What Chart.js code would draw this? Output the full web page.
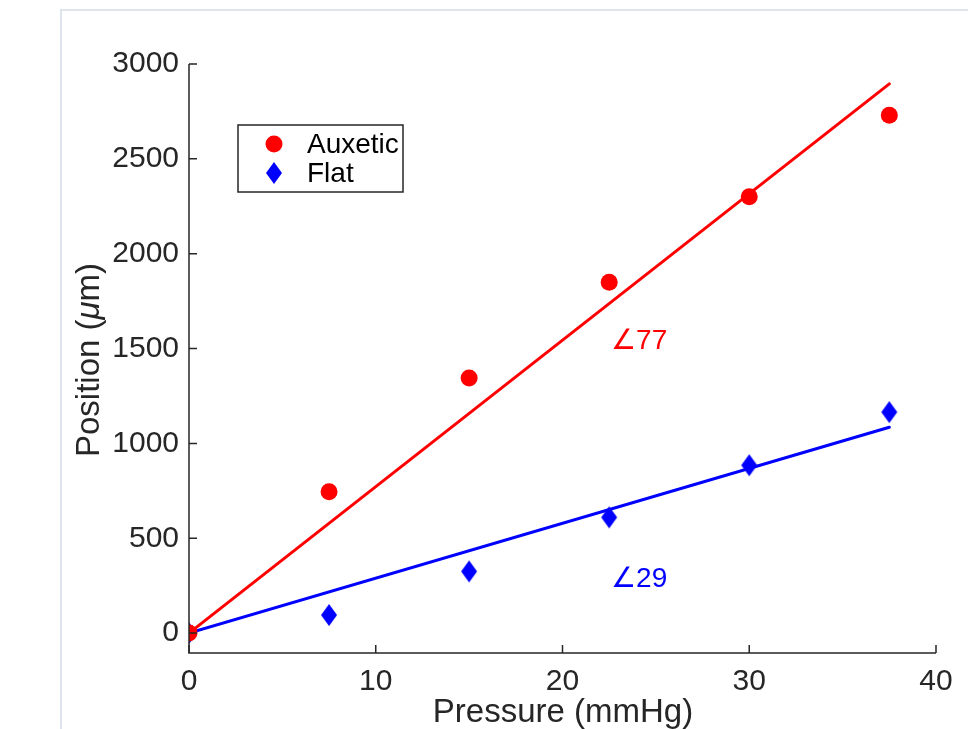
<!DOCTYPE html>
<html>
<head>
<meta charset="utf-8">
<script src="https://cdn.jsdelivr.net/npm/chart.js@4.4.1/dist/chart.umd.min.js"></script>
<style>
  html, body { margin: 0; padding: 0; background: #ffffff; }
  #wrap { width: 968px; height: 729px; position: relative; }
</style>
</head>
<body>
<div id="wrap"><canvas id="c" width="968" height="729"></canvas></div>
<script>
// ---- data ----
const pressure = [0, 7.5, 15, 22.5, 30, 37.5];
const auxeticPos = [0, 745, 1345, 1850, 2300, 2730];
const flatPos = [0, 95, 325, 610, 885, 1165];
const fitX = [0, 37.5];
const auxeticFit = [0, 2895];
const flatFit = [0, 1085];
const xTicks = [0, 10, 20, 30, 40];
const yTicks = [0, 500, 1000, 1500, 2000, 2500, 3000];
const seriesNames = ['Auxetic', 'Flat'];
const angleLabels = [
  { text: '\u222077', x: 22.6, y: 1540, color: '#ff0000' },
  { text: '\u222029', x: 22.6, y: 285, color: '#0000ff' }
];

const FONT = '"Liberation Sans", Arial, Helvetica, sans-serif';
const INK = '#262626';
const RED = '#ff0000';
const BLUE = '#0000ff';

// diamond marker
const dia = document.createElement('canvas');
dia.width = 18; dia.height = 24;
(function () {
  const g = dia.getContext('2d');
  g.fillStyle = BLUE;
  g.beginPath();
  g.moveTo(9, 1); g.lineTo(17, 12); g.lineTo(9, 23); g.lineTo(1, 12);
  g.closePath(); g.fill();
})();

const pts = (xs, ys) => xs.map((x, i) => ({ x: x, y: ys[i] }));

const framePlugin = {
  id: 'frame',
  beforeDraw(chart) {
    const ctx = chart.ctx;
    ctx.save();
    ctx.fillStyle = '#ffffff';
    ctx.fillRect(0, 0, chart.width, chart.height);
    ctx.strokeStyle = '#dfe5ec';
    ctx.lineWidth = 2;
    ctx.beginPath();
    ctx.moveTo(61, 729); ctx.lineTo(61, 10); ctx.lineTo(968, 10);
    ctx.stroke();
    ctx.restore();
  },
  afterDatasetsDraw(chart) {
    const ctx = chart.ctx;
    const xs = chart.scales.x, ys = chart.scales.y;
    const a = chart.chartArea;
    ctx.save();
    // axes lines
    ctx.strokeStyle = INK;
    ctx.lineWidth = 1.5;
    ctx.beginPath();
    ctx.moveTo(a.left, a.top); ctx.lineTo(a.left, a.bottom); ctx.lineTo(a.right, a.bottom);
    ctx.stroke();
    // inward ticks
    ctx.beginPath();
    xTicks.forEach(v => {
      const p = xs.getPixelForValue(v);
      ctx.moveTo(p, a.bottom); ctx.lineTo(p, a.bottom - 8);
    });
    yTicks.forEach(v => {
      const p = ys.getPixelForValue(v);
      ctx.moveTo(a.left, p); ctx.lineTo(a.left + 8, p);
    });
    ctx.stroke();

    // angle annotations
    ctx.font = '28px ' + FONT;
    ctx.textAlign = 'left';
    ctx.textBaseline = 'middle';
    angleLabels.forEach(l => {
      ctx.fillStyle = l.color;
      ctx.fillText(l.text, xs.getPixelForValue(l.x), ys.getPixelForValue(l.y));
    });

    // legend
    const bx = 238, by = 125, bw = 165, bh = 67;
    ctx.fillStyle = '#ffffff';
    ctx.fillRect(bx, by, bw, bh);
    ctx.strokeStyle = INK;
    ctx.lineWidth = 1.5;
    ctx.strokeRect(bx, by, bw, bh);
    ctx.fillStyle = RED;
    ctx.beginPath(); ctx.arc(274, 144, 8.5, 0, Math.PI * 2); ctx.fill();
    ctx.drawImage(dia, 274 - 9, 173 - 12);
    ctx.fillStyle = '#000000';
    ctx.font = '28px ' + FONT;
    ctx.textBaseline = 'alphabetic';
    ctx.fillText(chart.data.datasets[0].label, 307, 153);
    ctx.fillText(chart.data.datasets[1].label, 307, 182);

    // axis titles
    ctx.fillStyle = INK;
    ctx.font = '33px ' + FONT;
    ctx.textAlign = 'center';
    ctx.fillText('Pressure (mmHg)', 563, 722);

    ctx.save();
    ctx.translate(99, 360);
    ctx.rotate(-Math.PI / 2);
    const p1 = 'Position (', p2 = '\u03bc', p3 = 'm)';
    const fN = '33px ' + FONT, fI = 'italic 33px ' + FONT;
    ctx.font = fN; const w1 = ctx.measureText(p1).width;
    ctx.font = fI; const w2 = ctx.measureText(p2).width;
    ctx.font = fN; const w3 = ctx.measureText(p3).width;
    let x0 = -(w1 + w2 + w3) / 2;
    ctx.textAlign = 'left';
    ctx.font = fN; ctx.fillText(p1, x0, 0); x0 += w1;
    ctx.font = fI; ctx.fillText(p2, x0, 0); x0 += w2;
    ctx.font = fN; ctx.fillText(p3, x0, 0);
    ctx.restore();
    ctx.restore();
  }
};

new Chart(document.getElementById('c'), {
  type: 'scatter',
  data: {
    datasets: [
      { label: seriesNames[0], data: pts(pressure, auxeticPos), pointStyle: 'circle', pointRadius: 8.5,
        pointHoverRadius: 8.5, backgroundColor: RED, borderColor: RED, borderWidth: 0 },
      { label: seriesNames[1], data: pts(pressure, flatPos), pointStyle: dia, pointRadius: 10,
        backgroundColor: BLUE, borderColor: BLUE, borderWidth: 0 },
      { label: 'fitA', type: 'line', data: pts(fitX, auxeticFit), showLine: true, pointRadius: 0,
        borderColor: RED, borderWidth: 3, borderCapStyle: 'round', fill: false },
      { label: 'fitF', type: 'line', data: pts(fitX, flatFit), showLine: true, pointRadius: 0,
        borderColor: BLUE, borderWidth: 3, borderCapStyle: 'round', fill: false }
    ]
  },
  options: {
    responsive: false,
    animation: false,
    events: [],
    layout: { padding: { top: 64, right: 32, left: 0, bottom: 0 } },
    plugins: { legend: { display: false }, tooltip: { enabled: false } },
    scales: {
      x: {
        type: 'linear', min: 0, max: 40,
        afterBuildTicks: s => { s.ticks = xTicks.map(v => ({ value: v })); },
        afterFit: s => { s.height = 76; },
        grid: { display: false, drawTicks: false },
        border: { display: false },
        ticks: { color: INK, font: { family: FONT, size: 30 }, padding: 11, maxRotation: 0,
                 callback: v => String(v) }
      },
      y: {
        type: 'linear', min: -105, max: 3000,
        afterBuildTicks: s => { s.ticks = yTicks.map(v => ({ value: v })); },
        afterFit: s => { s.width = 189; },
        grid: { display: false, drawTicks: false },
        border: { display: false },
        ticks: { color: INK, font: { family: FONT, size: 30 }, padding: 10,
                 callback: v => String(v) }
      }
    }
  },
  plugins: [framePlugin]
});
</script>
</body>
</html>
